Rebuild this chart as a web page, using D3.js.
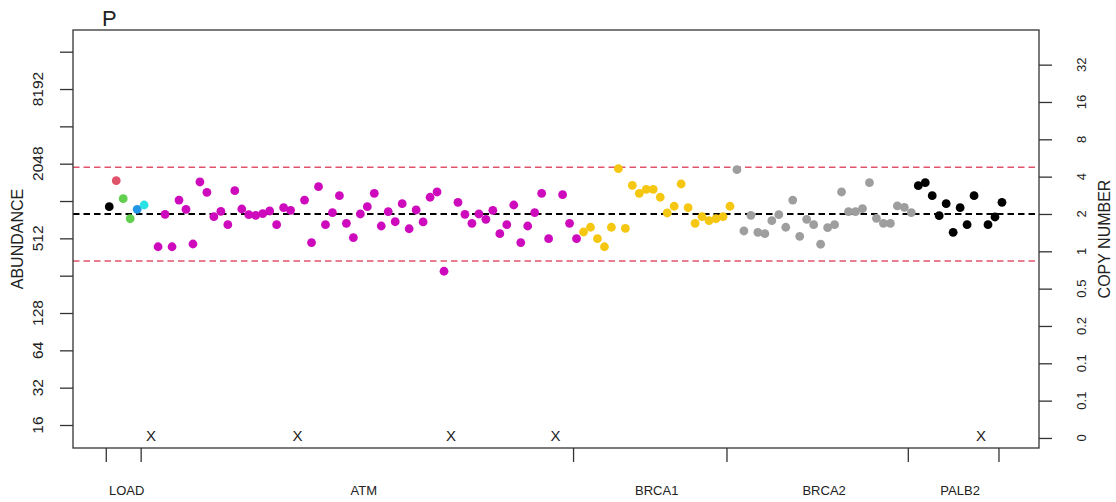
<!DOCTYPE html>
<html>
<head>
<meta charset="utf-8">
<script src="https://cdn.jsdelivr.net/npm/d3@7"></script>
<style>
  html, body { margin: 0; padding: 0; background: #fff; }
  svg { display: block; font-family: "Liberation Sans", Arial, sans-serif; }
</style>
</head>
<body>
<svg id="chart" width="1116" height="502"></svg>
<script>
// ---------------- DATA ----------------
const genes = ["LOAD", "ATM", "BRCA1", "BRCA2", "PALB2"];
// abundance per amplicon, null = failed amplicon (marked with X)
const loadValues  = [922, 1493, 1069, 737, 878, 951];
const atmValues   = [null, 438, 800, 438, 1043, 878, 461, 1458, 1204, 765, 846, 660, 1240, 883, 795, 785, 809, 851, 660, 905, 862,
                     null, 1043, 473, 1336, 660, 824, 1131, 677, 518, 805, 922, 1182, 644, 840, 697, 974, 612, 867, 694, 1098, 1211, 278,
                     null, 1000, 800, 677, 805, 729, 862, 558, 660, 951, 473, 644, 824, 1182, 509,
                     null, 1152, 677, 509];
const brca1Values = [576, 629, 509, 438, 629, 1867, 617, 1371, 1182, 1273, 1273, 1098, 820, 929, 1405, 905, 677, 765, 711, 737, 765, 929];
const brca2Values = [1832, 587, 785, 573, 558, 711, 795, 629, 1043, 532, 729, 660, 459, 624, 660, 1211, 840, 840, 888, 1439, 743, 677, 677, 934, 911, 824];
const palb2Values = [1361, 1439, 1131, 780, 974, 573, 905, 660, 1131, null, 660, 761, 1000];
// colour codes (R palette index) – per LOAD sample, then one per gene
const loadColorCodes = [1, 2, 3, 3, 4, 5];
const geneColorCodes = [6, 7, 8, 1];

const medianAbundance = 805;   // copy number 2
const upperLimit = 1915;
const lowerLimit = 336;

const leftTicks = [16, 32, 64, 128, 256, 512, 1024, 2048, 4096, 8192, 16384];
const leftTickLabels = ["16", "32", "64", "128", "", "512", "", "2048", "", "8192", ""];
const rightTicks = [32, 16, 8, 4, 2, 1, 0.5, 0.25, 0.125, 0.0625, 0.03125];
const rightTickLabels = ["32", "16", "8", "4", "2", "1", "0.5", "0.2", "0.1", "0.1", "0"];

const title = "P";
const yTitle = "ABUNDANCE";
const y2Title = "COPY NUMBER";

// ---------------- STYLE / LAYOUT ----------------
const palette = {1: "#000000", 2: "#DF536B", 3: "#61D04F", 4: "#2297E6", 5: "#28E2E5", 6: "#CD0BBC", 7: "#F5C710", 8: "#9E9E9E"};
const box = {left: 73, right: 1039, top: 30, bottom: 448};
const frameColor = "#333";

// build flat point table
const groups = [loadValues, atmValues, brca1Values, brca2Values, palb2Values];
const points = [];
const groupRanges = [];
let idx = 1;
groups.forEach((vals, g) => {
  const start = idx;
  vals.forEach((v, k) => {
    const code = g === 0 ? loadColorCodes[k] : geneColorCodes[g - 1];
    points.push({i: idx, v: v, color: palette[code]});
    idx++;
  });
  groupRanges.push({gene: genes[g], start: start, end: idx - 1});
});
const nPts = idx - 1;

// scales
const x = d3.scaleLinear().domain([-4.2, nPts + 5.31]).range([box.left, box.right]);
const yDomain = [Math.pow(2, 3.384), Math.pow(2, 14.581)];
const y = d3.scaleLog().base(2).domain(yDomain).range([box.bottom, box.top]);
const yR = d3.scaleLog().base(2).domain(yDomain.map(v => v * 2 / medianAbundance)).range([box.bottom, box.top]);

const svg = d3.select("#chart");

// reference lines
const refLines = [
  {v: upperLimit, color: palette[2], w: 1.5},
  {v: lowerLimit, color: palette[2], w: 1.5},
  {v: medianAbundance, color: "#000", w: 2}
];
svg.append("g").selectAll("line").data(refLines).join("line")
  .attr("x1", box.left).attr("x2", box.right)
  .attr("y1", d => y(d.v)).attr("y2", d => y(d.v))
  .attr("stroke", d => d.color).attr("stroke-width", d => d.w)
  .attr("stroke-dasharray", "6.5,4");

// points
svg.append("g").selectAll("circle").data(points.filter(p => p.v !== null)).join("circle")
  .attr("cx", d => x(d.i)).attr("cy", d => y(d.v)).attr("r", 4.4)
  .attr("fill", d => d.color);

// X marks for missing
svg.append("g").selectAll("text").data(points.filter(p => p.v === null)).join("text")
  .attr("x", d => x(d.i)).attr("y", box.bottom - 7.5)
  .attr("text-anchor", "middle").attr("font-size", 15).attr("fill", "#222")
  .text("X");

// frame
svg.append("rect").attr("x", box.left).attr("y", box.top)
  .attr("width", box.right - box.left).attr("height", box.bottom - box.top)
  .attr("fill", "none").attr("stroke", frameColor).attr("stroke-width", 1.3);

// left axis
const gl = svg.append("g").attr("transform", `translate(${box.left},0)`)
  .call(d3.axisLeft(y).tickValues(leftTicks).tickSize(13).tickFormat(""));
gl.select(".domain").remove();
gl.selectAll("line").attr("stroke", frameColor).attr("stroke-width", 1.3);
svg.append("g").selectAll("text").data(leftTicks.map((t, k) => ({t, l: leftTickLabels[k]}))).join("text")
  .attr("transform", d => `translate(37,${y(d.t)}) rotate(-90)`)
  .attr("text-anchor", "middle").attr("dominant-baseline", "central")
  .attr("font-size", 15.5).attr("fill", "#222").text(d => d.l);

// right axis
const gr = svg.append("g").attr("transform", `translate(${box.right},0)`)
  .call(d3.axisRight(yR).tickValues(rightTicks).tickSize(13).tickFormat(""));
gr.select(".domain").remove();
gr.selectAll("line").attr("stroke", frameColor).attr("stroke-width", 1.3);
svg.append("g").selectAll("text").data(rightTicks.map((t, k) => ({t, l: rightTickLabels[k]}))).join("text")
  .attr("transform", d => `translate(1081,${yR(d.t)}) rotate(-90)`)
  .attr("text-anchor", "middle").attr("dominant-baseline", "central")
  .attr("font-size", 13).attr("fill", "#222").text(d => d.l);

// bottom axis: boundaries
const boundaries = [groupRanges[0].start - 0.5].concat(groupRanges.map(g => g.end - 0.5));
const gb = svg.append("g").attr("transform", `translate(0,${box.bottom})`)
  .call(d3.axisBottom(x).tickValues(boundaries).tickSize(14).tickFormat(""));
gb.select(".domain").remove();
gb.selectAll("line").attr("stroke", frameColor).attr("stroke-width", 1.3);
svg.append("g").selectAll("text").data(groupRanges).join("text")
  .attr("x", d => x((d.start + d.end) / 2)).attr("y", 495)
  .attr("text-anchor", "middle").attr("font-size", 13).attr("fill", "#222")
  .text(d => d.gene);

// titles
svg.append("text").attr("x", 102).attr("y", 26).attr("font-size", 22).attr("fill", "#222").text(title);
svg.append("text").attr("transform", `translate(17.5,${(box.top + box.bottom) / 2}) rotate(-90)`)
  .attr("text-anchor", "middle").attr("dominant-baseline", "central")
  .attr("font-size", 16).attr("fill", "#222").text(yTitle);
svg.append("text").attr("transform", `translate(1104,${(box.top + box.bottom) / 2}) rotate(-90)`)
  .attr("text-anchor", "middle").attr("dominant-baseline", "central")
  .attr("font-size", 16).attr("fill", "#222").text(y2Title);
</script>
</body>
</html>
